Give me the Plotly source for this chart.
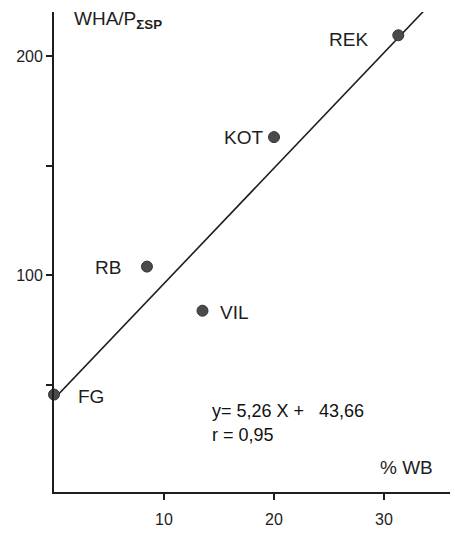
import plotly.graph_objects as go

# Data
sites = ["FG", "RB", "VIL", "KOT", "REK"]
pct_wb = [0.0, 8.45, 13.5, 20.0, 31.3]
wha_p = [45.7, 104.0, 83.9, 163.0, 209.4]

slope = 5.26
intercept = 43.66
r_value = 0.95

x_ticks = [10, 20, 30]
y_ticks = [100, 200]
y_minor_ticks = [50, 150]

FONT = "Liberation Sans, Arial, Helvetica, sans-serif"
INK = "#1e1e1e"

def de(v):
    return f"{v:.2f}".replace(".", ",")

fig = go.Figure()

line_x = [0, 36]
line_y = [intercept + slope * v for v in line_x]
fig.add_trace(go.Scatter(x=line_x, y=line_y, mode="lines",
                         line=dict(color=INK, width=1.6),
                         hoverinfo="skip", showlegend=False))

fig.add_trace(go.Scatter(x=pct_wb, y=wha_p, mode="markers",
                         marker=dict(size=11, color="#4a4a4a",
                                     line=dict(color="#333333", width=1)),
                         cliponaxis=False, showlegend=False))

# label offsets (pixels) relative to each point
label_cfg = {
    "FG": dict(xanchor="left", xshift=22, yshift=-2),
    "RB": dict(xanchor="right", xshift=-24, yshift=-1),
    "VIL": dict(xanchor="left", xshift=15, yshift=-2),
    "KOT": dict(xanchor="right", xshift=-9, yshift=0),
    "REK": dict(xanchor="right", xshift=-28, yshift=-4),
}
for name, xv, yv in zip(sites, pct_wb, wha_p):
    c = label_cfg[name]
    fig.add_annotation(x=xv, y=yv, xref="x", yref="y", text=name,
                       showarrow=False, xanchor=c["xanchor"], yanchor="middle",
                       xshift=c["xshift"], yshift=c["yshift"],
                       font=dict(family=FONT, size=19, color=INK))

fig.add_annotation(x=0.395, y=0.168, xref="paper", yref="paper",
                   text=f"y= {de(slope)} X +   {de(intercept)}",
                   showarrow=False, xanchor="left", yanchor="middle",
                   font=dict(family=FONT, size=18, color="#111111"))
fig.add_annotation(x=0.395, y=0.119, xref="paper", yref="paper",
                   text=f"r = {de(r_value)}",
                   showarrow=False, xanchor="left", yanchor="middle",
                   font=dict(family=FONT, size=18, color="#111111"))
fig.add_annotation(x=0.818, y=0.051, xref="paper", yref="paper",
                   text="% WB", showarrow=False, xanchor="left", yanchor="middle",
                   font=dict(family=FONT, size=19, color=INK))
fig.add_annotation(x=0.045, y=0.984, xref="paper", yref="paper",
                   text="WHA/P<sub><b>ΣSP</b></sub>", showarrow=False,
                   xanchor="left", yanchor="middle",
                   font=dict(family=FONT, size=19, color=INK))

fig.update_xaxes(range=[0, 36], tickvals=x_ticks, ticks="outside", ticklen=6,
                 tickwidth=1.5, tickcolor=INK, showline=True,
                 linecolor=INK, linewidth=1.8, showgrid=False,
                 zeroline=False, ticklabelstandoff=6,
                 tickfont=dict(family=FONT, size=16, color=INK))
fig.update_yaxes(range=[1.3, 220], tickvals=y_ticks,
                 ticks="outside", ticklen=6, tickwidth=1.5, tickcolor=INK,
                 minor=dict(tickvals=y_minor_ticks, ticks="outside", ticklen=6,
                            tickwidth=1.5, tickcolor=INK, showgrid=False),
                 showline=True, linecolor=INK, linewidth=1.8,
                 showgrid=False, zeroline=False,
                 tickfont=dict(family=FONT, size=16, color=INK))

fig.update_layout(width=455, height=533,
                  margin=dict(l=54, r=5, t=12, b=33),
                  paper_bgcolor="white", plot_bgcolor="white")

fig.write_html("out.html",
               config={"displayModeBar": False},
               post_script="document.body.style.margin='0';"
                           "document.body.style.overflow='hidden';"
                           "document.documentElement.style.overflow='hidden';")
